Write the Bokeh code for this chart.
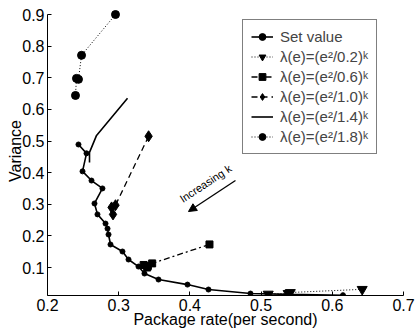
from bokeh.plotting import figure
from bokeh.models import Range1d, Legend, LegendItem, Label, Arrow, NormalHead, FixedTicker
from bokeh.embed import file_html
from bokeh.resources import INLINE

# ---- data ----
x_ticks = [0.2, 0.3, 0.4, 0.5, 0.6, 0.7]
y_ticks = [0.1, 0.2, 0.3, 0.4, 0.5, 0.6, 0.7, 0.8, 0.9]

set_x = [0.2435, 0.2548, 0.2492, 0.2618, 0.2772, 0.2660, 0.2702, 0.2815, 0.2843, 0.2857,
         0.2885, 0.3053, 0.3138, 0.3278, 0.3362, 0.3559, 0.3966, 0.4261, 0.4851, 0.5400, 0.6150]
set_y = [0.489, 0.461, 0.404, 0.375, 0.350, 0.3025, 0.268, 0.239, 0.223, 0.2044,
         0.1728, 0.1506, 0.1253, 0.103, 0.081, 0.062, 0.046, 0.0304, 0.0177, 0.0150, 0.0125]

s02_x = [0.642, 0.541, 0.538, 0.510]
s02_y = [0.031, 0.021, 0.018, 0.016]

s06_x = [0.4275, 0.347, 0.340, 0.335, 0.341]
s06_y = [0.173, 0.113, 0.100, 0.108, 0.105]

s10_x = [0.342, 0.2955, 0.290, 0.292]
s10_y = [0.515, 0.297, 0.290, 0.268]

s14_x = [0.3124, 0.2689, 0.259, 0.259]
s14_y = [0.635, 0.5177, 0.464, 0.432]

s18_x = [0.2955, 0.2478, 0.2435, 0.2407, 0.2393]
s18_y = [0.900, 0.771, 0.695, 0.698, 0.644]

labels = ["Set value",
          "\u03bb(e)=(e\u00b2/0.2)\u1d4f",
          "\u03bb(e)=(e\u00b2/0.6)\u1d4f",
          "\u03bb(e)=(e\u00b2/1.0)\u1d4f",
          "\u03bb(e)=(e\u00b2/1.4)\u1d4f",
          "\u03bb(e)=(e\u00b2/1.8)\u1d4f"]

FONT = "Liberation Sans"

p = figure(width=416, height=331, output_backend="svg", toolbar_location=None,
           x_range=Range1d(0.2, 0.7), y_range=Range1d(0.0115, 0.9253),
           min_border_left=47, min_border_right=13, min_border_top=6, min_border_bottom=36)
p.xgrid.visible = False
p.ygrid.visible = False
p.outline_line_color = None
p.background_fill_color = "white"

p.xaxis.ticker = FixedTicker(ticks=x_ticks)
p.yaxis.ticker = FixedTicker(ticks=y_ticks)
p.yaxis.bounds = (0.0115, 0.9)
for ax in (p.xaxis[0], p.yaxis[0]):
    ax.major_tick_in = 4
    ax.major_tick_out = 0
    ax.minor_tick_line_color = None
    ax.axis_line_color = "black"
    ax.major_tick_line_color = "black"
    ax.major_label_text_font = FONT
    ax.major_label_text_font_size = "16px"
    ax.major_label_text_color = "black"
    ax.major_label_standoff = 3
    ax.axis_label_text_font = FONT
    ax.axis_label_text_font_size = "16px"
    ax.axis_label_text_font_style = "normal"
    ax.axis_label_text_color = "black"

p.xaxis.axis_label = "Package rate(per second)"
p.xaxis.axis_label_standoff = -3
p.yaxis.axis_label = "Variance"
p.yaxis.axis_label_standoff = -5

# ---- series ----
r_set_l = p.line(set_x, set_y, line_color="black", line_width=1.6)
r_set_p = p.scatter(set_x, set_y, marker="circle", size=5, color="black")

r02_l = p.line(s02_x, s02_y, line_color="black", line_width=1, line_dash="1 2")
r02_p = p.scatter(s02_x, s02_y, marker="inverted_triangle", size=10, color="black")

r06_l = p.line(s06_x, s06_y, line_color="black", line_width=1.3, line_dash="6 3 2 3")
r06_p = p.scatter(s06_x, s06_y, marker="square", size=7, color="black")

r10_l = p.line(s10_x, s10_y, line_color="black", line_width=1.3, line_dash="6 4")
r10_p = p.scatter(s10_x, s10_y, marker="diamond", size=11, color="black")

r14_l = p.line(s14_x, s14_y, line_color="black", line_width=1.6)

r18_l = p.line(s18_x, s18_y, line_color="black", line_width=1, line_dash="1 2")
r18_p = p.scatter(s18_x, s18_y, marker="circle", size=8, color="black")

legend = Legend(items=[
    LegendItem(label=labels[0], renderers=[r_set_l, r_set_p]),
    LegendItem(label=labels[1], renderers=[r02_l, r02_p]),
    LegendItem(label=labels[2], renderers=[r06_l, r06_p]),
    LegendItem(label=labels[3], renderers=[r10_l, r10_p]),
    LegendItem(label=labels[4], renderers=[r14_l]),
    LegendItem(label=labels[5], renderers=[r18_l, r18_p]),
], location=(195, 141))
legend.border_line_color = "black"
legend.border_line_width = 1
legend.background_fill_color = "white"
legend.background_fill_alpha = 1
legend.label_text_font = FONT
legend.label_text_font_size = "15px"
legend.label_height = 17
legend.glyph_height = 17
legend.glyph_width = 22
legend.label_standoff = 7
legend.spacing = 3
legend.padding = 8
legend.margin = 0
p.add_layout(legend, "center")

# ---- annotation arrow ----
p.add_layout(Arrow(end=NormalHead(size=8, fill_color="black", line_color="black"),
                   x_start=0.464, y_start=0.375, x_end=0.398, y_end=0.277,
                   line_color="black", line_width=1.3))
p.add_layout(Label(x=0.4219, y=0.3656, text="Increasing k", angle=0.58,
                   text_font=FONT, text_font_size="11px", text_align="center",
                   text_baseline="middle", text_color="black"))

open("out.html", "w").write(file_html(p, INLINE))
